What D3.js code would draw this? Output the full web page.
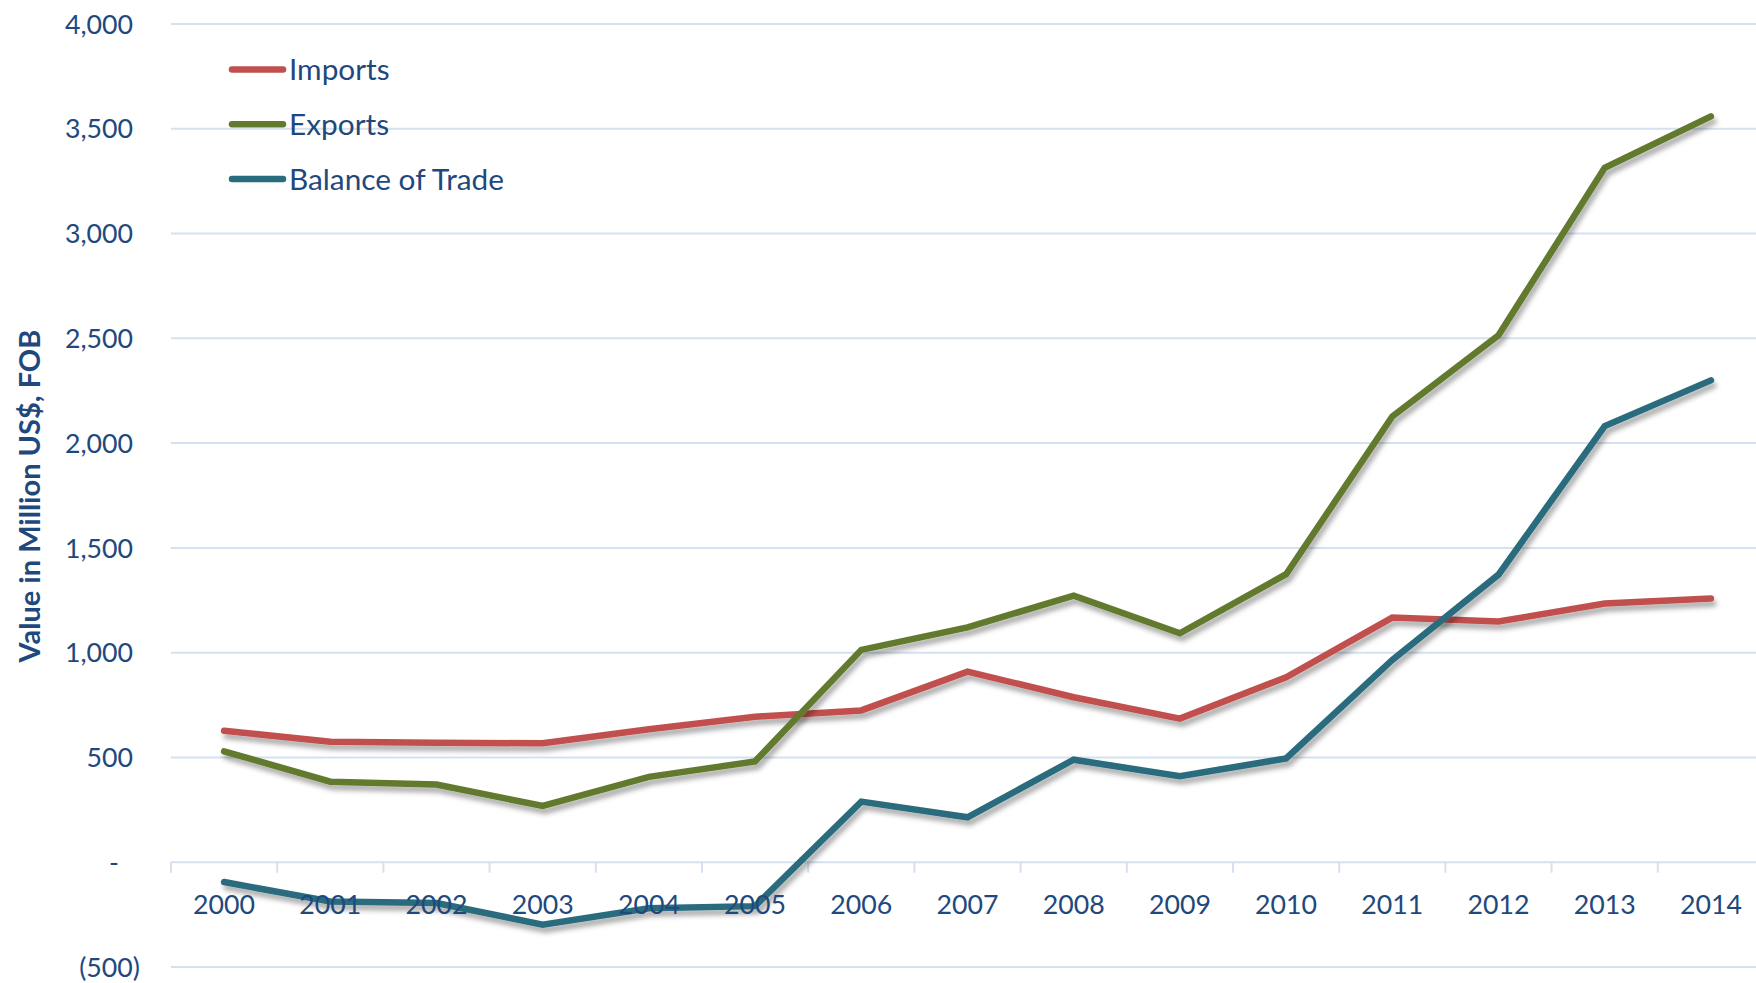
<!DOCTYPE html>
<html>
<head>
<meta charset="utf-8">
<script src="https://cdn.jsdelivr.net/npm/d3@7"></script>
<style>
  html, body { margin: 0; padding: 0; background: #fff; }
  svg { display: block; }
  text { font-family: Lato, "Open Sans", sans-serif; fill: #1F497D; }
</style>
</head>
<body>
<svg id="chart" width="1756" height="983"></svg>
<script>
// ---- data ----
const years = ["2000","2001","2002","2003","2004","2005","2006","2007","2008","2009","2010","2011","2012","2013","2014"];
const imports = [625, 572, 568, 565, 632, 692, 722, 907, 785, 683, 880, 1165, 1146, 1232, 1256];
const exports = [527, 382, 368, 266, 405, 479, 1011, 1118, 1270, 1090, 1372, 2125, 2512, 3311, 3557];
const balance = [-97, -190, -197, -300, -222, -212, 287, 212, 487, 408, 493, 963, 1370, 2079, 2297];
const seriesNames = ["Imports", "Exports", "Balance of Trade"];
const yTickValues = [-500, 0, 500, 1000, 1500, 2000, 2500, 3000, 3500, 4000];
const yTickLabels = ["(500)", "-", "500", "1,000", "1,500", "2,000", "2,500", "3,000", "3,500", "4,000"];
const yTitle = "Value in Million US$, FOB";

// ---- layout ----
const colors = ["#C0504D", "#627A2F", "#296C7D"];
const svg = d3.select("#chart");
const left = 171, band = 106.2;
const x = d3.scaleBand().domain(years).range([left, left + band * years.length]).padding(0);
const y = d3.scaleLinear().domain([-500, 4000]).range([966.5, 23.5]);
const cx = d => x(d) + x.bandwidth() / 2;

function fitSize(text, weight, target) {
  const t = svg.append("text").attr("font-size", 100).attr("font-weight", weight).text(text);
  const w = t.node().getComputedTextLength();
  t.remove();
  return 100 * target / w;
}
const tickFont = fitSize("2000", "normal", 62);
const legendFont = fitSize("Balance of Trade", "normal", 215);
const titleFont = fitSize(yTitle, "bold", 333);

// defs: shadow
const defs = svg.append("defs");
const f = defs.append("filter").attr("id", "shadow").attr("x", "-10%").attr("y", "-10%").attr("width", "120%").attr("height", "130%");
f.append("feDropShadow").attr("dx", 2.5).attr("dy", 5).attr("stdDeviation", 2.6)
  .attr("flood-color", "#000").attr("flood-opacity", 0.33);

// gridlines + y labels
const yAxis = d3.axisLeft(y).tickValues(yTickValues)
  .tickFormat((d, i) => yTickLabels[i])
  .tickSize(-(1780 - left)).tickPadding(38);
const gy = svg.append("g").attr("transform", `translate(${left},0)`).call(yAxis);
gy.select(".domain").remove();
gy.selectAll(".tick line").attr("stroke", "#D5E1F1").attr("stroke-width", 2);
gy.selectAll(".tick text").attr("font-size", tickFont).attr("fill", "#1F497D")
  .attr("dy", "0.36em")
  .attr("dx", d => d === -500 ? 7 : (d === 0 ? -14 : 0));

// x axis tick marks at band boundaries
const gx = svg.append("g").attr("transform", `translate(0,${y(0)})`);
gx.selectAll("line.tk").data(years).join("line").attr("class", "tk")
  .attr("x1", d => x(d)).attr("x2", d => x(d)).attr("y1", 0).attr("y2", 11)
  .attr("stroke", "#D5E1F1").attr("stroke-width", 2);

// lines
const lineGen = d3.line().x((d, i) => cx(years[i])).y(d => y(d));
const allSeries = [imports, exports, balance];
svg.append("g").selectAll("path").data(allSeries).join("path")
  .attr("d", d => lineGen(d))
  .attr("fill", "none")
  .attr("stroke", (d, i) => colors[i])
  .attr("stroke-width", 6.5)
  .attr("stroke-linecap", "round")
  .attr("stroke-linejoin", "miter")
  .attr("filter", "url(#shadow)");

// x labels
const xAxis = d3.axisBottom(x).tickSize(0).tickPadding(0);
const gxl = svg.append("g").attr("transform", `translate(0,${y(0)})`).call(xAxis);
gxl.select(".domain").remove();
gxl.selectAll(".tick text").attr("font-size", tickFont).attr("fill", "#1F497D")
  .attr("y", 52).attr("dy", 0);

// y title
svg.append("text").attr("transform", "translate(28,496) rotate(-90)")
  .attr("text-anchor", "middle").attr("dominant-baseline", "central")
  .attr("font-weight", "bold").attr("font-size", titleFont).text(yTitle);

// legend
const legY = [69.4, 124.3, 179];
const lg = svg.append("g");
seriesNames.forEach((n, i) => {
  lg.append("line").attr("x1", 232).attr("x2", 283).attr("y1", legY[i]).attr("y2", legY[i])
    .attr("stroke", colors[i]).attr("stroke-width", 6.5).attr("stroke-linecap", "round");
  lg.append("text").attr("x", 289).attr("y", legY[i]).attr("dy", "0.36em")
    .attr("font-size", legendFont).text(n);
});
</script>
</body>
</html>
